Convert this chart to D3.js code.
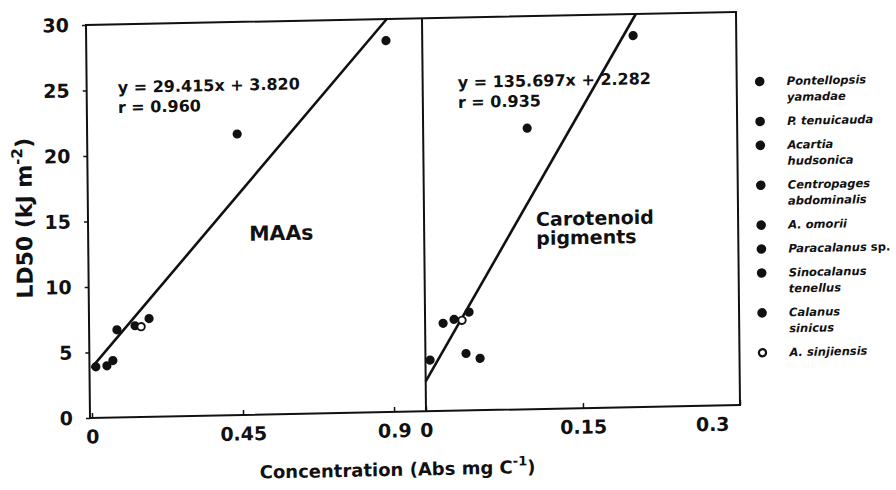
<!DOCTYPE html>
<html>
<head>
<meta charset="utf-8">
<script src="https://cdnjs.cloudflare.com/ajax/libs/d3/7.8.5/d3.min.js"></script>
<style>
body{margin:0;background:#fff;}
svg{display:block;font-family:"DejaVu Sans",sans-serif;font-weight:bold;}
</style>
</head>
<body>
<div id="chart"></div>
<script>
// species (legend order), LD50 and pigment concentrations
var species = ['Pontellopsis yamadae','P. tenuicauda','Acartia hudsonica','Centropages abdominalis','A. omorii','Paracalanus sp.','Sinocalanus tenellus','Calanus sinicus','A. sinjiensis'];
var legendLines = [['Pontellopsis','yamadae'],['P. tenuicauda'],['Acartia','hudsonica'],['Centropages','abdominalis'],['A. omorii'],['Paracalanus|sp.'],['Sinocalanus','tenellus'],['Calanus','sinicus'],['A. sinjiensis']];
var openMark = [false,false,false,false,false,false,false,false,true];
var ld50 = [28.35, 21.45, 3.9, 7.5, 3.96, 4.35, 6.69, 6.97, 6.89];
var maa = [0.887, 0.441, 0.013, 0.173, 0.046, 0.064, 0.077, 0.131, 0.149];
var carotenoid = [0.2015, 0.0994, 0.0044, 0.0421, 0.0522, 0.0388, 0.0172, 0.0277, 0.0353];
var fitMaa = {slope:29.415, icpt:3.820, r:0.960};
var fitCar = {slope:135.697, icpt:2.282, r:0.935};
var yTicks = [0,5,10,15,20,25,30];
var maaTicks = [0,0.45,0.9];
var carTicks = [0,0.15,0.3];

var W = 650, H = 393,
	svg = d3.select('#chart').append('svg').attr('width',896).attr('height',490),
	// the scanned figure is slightly skewed, so draw in a sheared frame
	g = svg.append('g').attr('transform','matrix(1,-0.02,0.0102,1,90,418)')
		.append('g').attr('transform','translate(0,'+(-H)+')'),
	y = d3.scaleLinear().domain([0,30]).range([H,0]),
	divX = 336,
	panels = [
		{x: d3.scaleLinear().domain([0,0.995]).range([2,divX]), conc: maa, ticks: maaTicks, fit: fitMaa,
			eq: [31,68.6], name: ['MAAs'], nameAt: [161,219]},
		{x: d3.scaleLinear().domain([0,0.3]).range([divX,W]), conc: carotenoid, ticks: carTicks, fit: fitCar,
			eq: [371,70.4], name: ['Carotenoid','pigments'], nameAt: [448,210]}
	];

// frame and divider
g.append('rect').attr('x',0).attr('y',0).attr('width',W).attr('height',H)
	.attr('fill','none').attr('stroke','#111').attr('stroke-width',2);
g.append('line').attr('x1',divX).attr('x2',divX).attr('y1',0).attr('y2',H)
	.attr('stroke','#111').attr('stroke-width',2);

// y axis
var ya = g.append('g').call(d3.axisLeft(y).tickValues(yTicks).tickSizeInner(4).tickSizeOuter(0).tickPadding(13));
ya.select('.domain').remove();
ya.selectAll('line').attr('stroke','#111').attr('stroke-width',1.5);
ya.selectAll('text').attr('font-family','DejaVu Sans').attr('font-weight','bold').attr('font-size',19).attr('fill','#111');

panels.forEach(function(p, k){
	var xa = g.append('g').attr('transform','translate(0,'+H+')')
		.call(d3.axisBottom(p.x).tickValues(p.ticks).tickFormat(d3.format('')).tickSizeInner(-5).tickSizeOuter(0).tickPadding(12));
	xa.select('.domain').remove();
	xa.selectAll('line').attr('stroke','#111').attr('stroke-width',1.5);
	xa.selectAll('text').attr('font-family','DejaVu Sans').attr('font-weight','bold').attr('font-size',19).attr('fill','#111')
		.attr('dx',function(d,i){ return (k==1 && i==p.ticks.length-1) ? -28 : 0; });

	// regression line, stopped at the top of the frame
	var xTop = (30 - p.fit.icpt)/p.fit.slope;
	g.append('line')
		.attr('x1',p.x(0)).attr('y1',y(p.fit.icpt))
		.attr('x2',p.x(xTop)).attr('y2',y(30))
		.attr('stroke','#111').attr('stroke-width',2.6);

	g.append('g').selectAll('circle')
		.data(ld50)
		.enter()
		.append('circle')
			.attr('cx',function(d,i){ return p.x(p.conc[i]); })
			.attr('cy',function(d){ return y(d); })
			.attr('r',function(d,i){ return openMark[i] ? 3.7 : 4.6; })
			.attr('fill',function(d,i){ return openMark[i] ? '#fff' : '#111'; })
			.attr('stroke','#111')
			.attr('stroke-width',function(d,i){ return openMark[i] ? 1.9 : 0; });

	var eq = g.append('text').attr('font-size',16).attr('fill','#111');
	eq.append('tspan').attr('x',p.eq[0]).attr('y',p.eq[1])
		.text('y = '+p.fit.slope.toFixed(3)+'x + '+p.fit.icpt.toFixed(3));
	eq.append('tspan').attr('x',p.eq[0]).attr('dy',20)
		.text('r = '+p.fit.r.toFixed(3));

	var nm = g.append('text').attr('font-size',k ? 19 : 20.5).attr('fill','#111');
	p.name.forEach(function(s,i){
		nm.append('tspan').attr('x',p.nameAt[0]).attr('y',p.nameAt[1]+i*19).text(s);
	});
});

// axis titles
var yl = g.append('text').attr('transform','translate(-56,192) rotate(-90)')
	.attr('text-anchor','middle').attr('font-size',22).attr('fill','#111');
yl.append('tspan').text('LD50 (kJ m');
yl.append('tspan').attr('font-size',15).attr('dy',-9).text('-2');
yl.append('tspan').attr('dy',9).text(')');

var xl = g.append('text').attr('x',307).attr('y',457)
	.attr('text-anchor','middle').attr('font-size',18).attr('fill','#111');
xl.append('tspan').text('Concentration (Abs mg C');
xl.append('tspan').attr('font-size',13).attr('dy',-8).text('-1');
xl.append('tspan').attr('dy',8).text(')');

// legend
var lineH = 16, gap = 23.9, base = 74, lg = g.append('g');
legendLines.forEach(function(lines, i){
	var b = base;
	lg.append('circle')
		.attr('cx',673).attr('cy',b-4)
		.attr('r',openMark[i] ? 3.6 : 4.8)
		.attr('fill',openMark[i] ? '#fff' : '#111')
		.attr('stroke','#111').attr('stroke-width',openMark[i] ? 2.2 : 0);
	lines.forEach(function(s, j){
		var t = lg.append('text').attr('x',700).attr('y',b+j*lineH)
			.attr('font-size',11.5).attr('fill','#111');
		var parts = s.split('|');
		t.append('tspan').attr('font-style','italic').text(parts[0]);
		if (parts[1]) t.append('tspan').text(' '+parts[1]);
	});
	base = b + (lines.length-1)*lineH + gap;
});
</script>
</body>
</html>
